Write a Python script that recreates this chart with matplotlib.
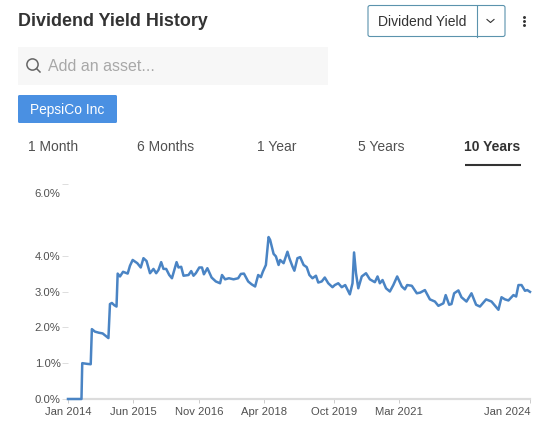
#!/usr/bin/env python3
"""PepsiCo dividend yield history widget, 10 year view."""

import matplotlib

matplotlib.use("Agg")
import matplotlib.pyplot as plt
from matplotlib.patches import Circle, FancyBboxPatch, Rectangle
from matplotlib.transforms import ScaledTranslation

plt.rcParams["font.family"] = ["Liberation Sans", "DejaVu Sans"]

# months since Jan 2014, yield in %
months = [
    0, 3.5, 3.7, 5, 5.9, 6.2, 7, 8, 9, 10.5, 10.9, 11.4, 12, 12.6, 12.9, 13.5, 14.3, 15.5,
    16.1, 16.8, 18.0, 18.9, 19.6, 20.4, 21.3, 22.2, 22.9, 23.5, 24.2, 24.8, 25.5, 26.3, 27,
    28.2, 28.7, 29.4, 30, 31.3, 32, 32.6, 33.2, 34.1, 34.8, 35.3, 36.2, 37.3, 38.4, 39.5,
    40, 40.8, 41.8, 43, 44.2, 44.9, 45.7, 46.8, 47.7, 48.6, 49.4, 50.1, 50.6, 51.4, 52.1, 52.5,
    53.4, 54, 54.7, 55.1, 56, 57, 57.5, 58.3, 58.8, 59.6, 60.3, 61.2, 62, 62.7, 63.5, 64.4,
    65, 65.9, 66.7, 67.6, 68.7, 69.3, 70.2, 71.1, 72, 73.2, 73.9, 74.3, 74.8, 75.4, 76.3,
    77.4, 78.4, 79.7, 80.4, 81, 81.7, 82.6, 83.6, 84.5, 85.5, 86.7, 87.5, 88.1, 89.3, 90.6,
    91.5, 92.7, 94, 95.3, 96.2, 97.5, 98.1, 99, 99.6, 100.3, 101.4, 102.2, 103.5,
    104.8, 106, 107, 108.6, 110, 111.8, 112.6, 113.5, 114.4, 115.7, 116.4, 117,
    117.8, 118.7, 119.3, 120,
]
yields = [
    0, 0, 1.0, 0.98, 0.97, 1.95, 1.88, 1.85, 1.83, 1.7, 2.65, 2.68, 2.62, 2.58, 3.5, 3.42,
    3.55, 3.5,
    3.72, 3.88, 3.79, 3.67, 3.93, 3.85, 3.51, 3.63, 3.51, 3.6, 3.82, 3.63, 3.63, 3.46, 3.37,
    3.82, 3.67, 3.69, 3.44, 3.46, 3.57, 3.44, 3.51, 3.67, 3.67, 3.48, 3.65, 3.39, 3.28, 3.23,
    3.46, 3.34, 3.37, 3.34, 3.37, 3.49, 3.5, 3.28, 3.2, 3.14, 3.46, 3.4, 3.55, 3.74, 4.52, 4.44,
    4.05, 3.98, 3.74, 3.88, 3.79, 4.11, 3.93, 3.7, 3.58, 3.93, 3.96, 3.74, 3.68, 3.46, 3.37, 3.44,
    3.25, 3.28, 3.39, 3.23, 3.12, 3.18, 3.23, 3.12, 3.18, 2.92, 3.23, 4.09, 3.51, 3.09, 3.42,
    3.51, 3.34, 3.26, 3.42, 3.23, 3.32, 3.09, 3.0, 3.18, 3.42, 3.14, 3.06, 3.18, 3.16, 2.95,
    2.97, 3.04, 2.78, 2.72, 2.6, 2.67, 2.9, 2.63, 2.65, 2.95, 3.03, 2.84, 2.72,
    2.95, 2.63, 2.58, 2.78, 2.72, 2.49, 2.84, 2.78, 2.75, 2.9, 2.86, 3.18,
    3.18, 3.02, 3.04, 2.99,
]

y_ticks = [0, 1, 2, 3, 4, 6]
y_labels = ["0.0%", "1.0%", "2.0%", "3.0%", "4.0%", "6.0%"]
x_ticks = [0, 17, 34, 51, 69, 86, 120]
x_labels = ["Jan 2014", "Jun 2015", "Nov 2016", "Apr 2018", "Oct 2019", "Mar 2021", "Jan 2024"]

W, H = 543, 425
LINE_BLUE = "#4a84c4"
TEXT = "#505050"

fig = plt.figure(figsize=(W / 100, H / 100), dpi=100, facecolor="white")

# chart area, placed by pixel
ax = fig.add_axes([68 / W, (H - 399) / H, (530 - 68) / W, (399 - 184) / H])
ax.plot(months, yields, color=LINE_BLUE, linewidth=1.8, solid_joinstyle="round", clip_on=False, zorder=5)
ax.set_xlim(0, 120)
ax.set_ylim(0, 6)
for side in ("top", "right", "left"):
    ax.spines[side].set_visible(False)
ax.spines["bottom"].set_color("#dcdcdc")
ax.spines["bottom"].set_linewidth(1.6)
ax.set_xticks(x_ticks, x_labels)
ax.set_yticks(y_ticks, y_labels)
ax.tick_params(axis="x", color="#cccccc", length=3, width=0.7, labelsize=8.1, labelcolor=TEXT, pad=2.9)
ax.tick_params(axis="y", color="#dddddd", length=4, width=0.7, labelsize=8.1, labelcolor=TEXT, pad=1.4)
last_x = ax.get_xticklabels()[-1]
last_x.set_ha("right")
last_x.set_transform(last_x.get_transform() + ScaledTranslation(1 / 100, 0, fig.dpi_scale_trans))
# the top label sits below its tick so it stays inside the widget
top_label = ax.get_yticklabels()[-1]
top_label.set_transform(top_label.get_transform() + ScaledTranslation(0, -9 / 100, fig.dpi_scale_trans))

# page furniture in pixel coordinates
ui = fig.add_axes([0, 0, 1, 1], zorder=-1)
ui.set_xlim(0, W)
ui.set_ylim(H, 0)
ui.axis("off")

ui.text(18, 21.5, "Dividend Yield History", fontsize=12.9, fontweight="bold", color="#333333", va="center")

ui.add_patch(FancyBboxPatch((368, 5.5), 137, 31, boxstyle="round,pad=0,rounding_size=2",
                            facecolor="white", edgecolor="#5b93ad", linewidth=0.8))
ui.plot([477, 477], [5.5, 36.5], color="#5b93ad", linewidth=0.8)
ui.text(378, 22, "Dividend Yield", fontsize=10, color="#333333", va="center")
ui.plot([487, 490.5, 494], [19.5, 22.5, 19.5], color="#333333", linewidth=0.8)
ui.scatter([523.5] * 3, [16.5, 20.8, 25.2], s=4.5, color="#333333", linewidths=0)

ui.add_patch(Rectangle((18, 47), 310, 38, facecolor="#f7f7f7", edgecolor="none"))
ui.add_patch(Circle((32.5, 64.5), 5.6, facecolor="none", edgecolor="#666666", linewidth=1.1))
ui.plot([36.5, 40], [68.5, 72], color="#666666", linewidth=1.1)
ui.text(48, 66, "Add an asset...", fontsize=11.5, color="#a8a8a8", va="center")

ui.add_patch(FancyBboxPatch((18, 95), 99, 28, boxstyle="round,pad=0,rounding_size=1.5",
                            facecolor="#4a90e2", edgecolor="none"))
ui.text(30, 110, "PepsiCo Inc", fontsize=9.9, color="white", va="center")

ui.text(28, 147, "1 Month", fontsize=10, color=TEXT, va="center")
ui.text(137, 147, "6 Months", fontsize=10, color=TEXT, va="center")
ui.text(257, 147, "1 Year", fontsize=10, color=TEXT, va="center")
ui.text(358, 147, "5 Years", fontsize=10, color=TEXT, va="center")
ui.text(464, 147, "10 Years", fontsize=10, fontweight="bold", color="#333333", va="center")
ui.plot([465, 521], [164.5, 164.5], color="#333333", linewidth=1.5, solid_capstyle="butt")

fig.savefig("out.png", dpi=100, facecolor="white")
